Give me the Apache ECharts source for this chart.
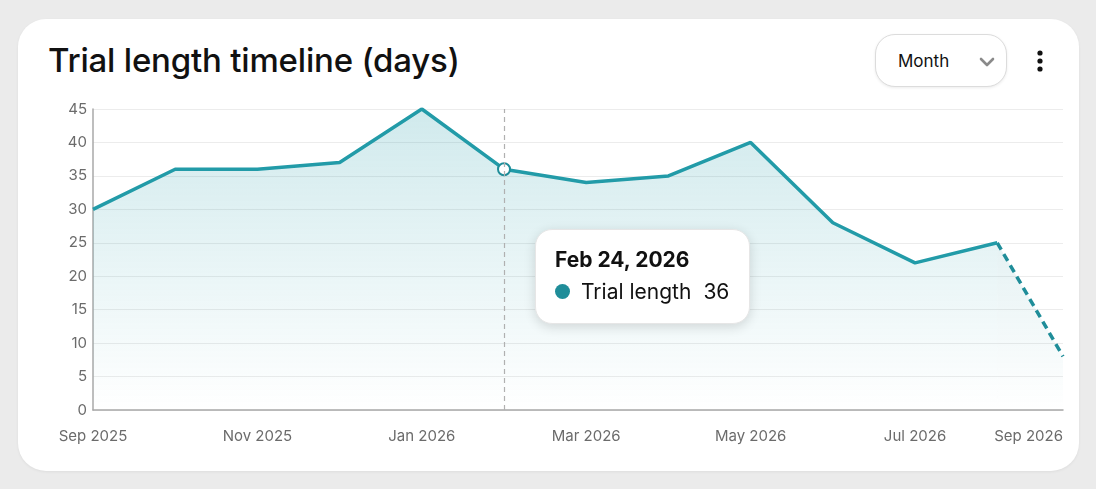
<!DOCTYPE html>
<html>
<head>
<meta charset="utf-8">
<script src="https://cdn.jsdelivr.net/npm/echarts@6/dist/echarts.min.js"></script>
<style>
  html, body { margin: 0; padding: 0; background: #ebebeb; }
  body { width: 1096px; height: 489px; position: relative; overflow: hidden; font-family: Inter, "Noto Sans", sans-serif; }
  .card { position: absolute; left: 18px; top: 19px; width: 1061px; height: 452px; background: #fff; border-radius: 28px; box-shadow: 0 1px 3px rgba(0,0,0,0.06); }
  .title { position: absolute; left: 48px; top: 40px; font-size: 33px; font-weight: 500; color: #111; letter-spacing: -0.2px; }
  .select { position: absolute; left: 875px; top: 34px; width: 130px; height: 51px; border: 1px solid #dcdcdc; border-radius: 20px; box-shadow: 0 1px 3px rgba(0,0,0,0.08); background: #fff; }
  .select span { position: absolute; left: 22px; top: 16px; font-size: 17px; color: #111; }
  .select svg { position: absolute; left: 103px; top: 21px; }
  .kebab { position: absolute; left: 1036px; top: 50px; }
  #chart { position: absolute; left: 0; top: 0; width: 1096px; height: 489px; }
</style>
</head>
<body>
<div class="card"></div>
<div class="title">Trial length timeline (days)</div>
<div class="select"><span>Month</span>
  <svg width="16" height="12" viewBox="0 0 16 12"><polyline points="2,3 8,9 14,3" fill="none" stroke="#8a8a8a" stroke-width="2.6" stroke-linecap="round" stroke-linejoin="round"/></svg>
</div>
<svg class="kebab" width="8" height="24" viewBox="0 0 8 24"><circle cx="4" cy="3" r="2.6" fill="#111"/><circle cx="4" cy="11" r="2.6" fill="#111"/><circle cx="4" cy="19" r="2.6" fill="#111"/></svg>
<div id="chart"></div>
<script>
// month labels on the x axis (one per position)
const months = ['Sep 2025', 'Oct 2025', 'Nov 2025', 'Dec 2025', 'Jan 2026', 'Feb 2026', 'Mar 2026',
                'Apr 2026', 'May 2026', 'Jun 2026', 'Jul 2026', 'Aug 2026', 'Sep 2026'];
// dates shown in the tooltip
const pointDates = ['Sep 24, 2025', 'Oct 24, 2025', 'Nov 24, 2025', 'Dec 24, 2025', 'Jan 24, 2026', 'Feb 24, 2026',
                    'Mar 24, 2026', 'Apr 24, 2026', 'May 24, 2026', 'Jun 24, 2026', 'Jul 24, 2026', 'Aug 24, 2026', 'Sep 18, 2026'];
// position of each point in months from Sep 2025 (last one is a partial month)
const monthPos = [0, 1, 2, 3, 4, 5, 6, 7, 8, 9, 10, 11, 11.8];
const trialLength = [30, 36, 36, 37, 45, 36, 34, 35, 40, 28, 22, 25, 8];
const yTicks = [0, 5, 10, 15, 20, 25, 30, 35, 40, 45];

const teal = '#1f8d99';
const solidPart = monthPos.slice(0, 12).map((x, i) => [x, trialLength[i]]);
const dashedPart = monthPos.slice(11).map((x, i) => [x, trialLength[11 + i]]);

const areaFill = new echarts.graphic.LinearGradient(0, 109, 0, 410, [
  { offset: 0, color: 'rgba(31,141,153,0.3)' },
  { offset: 1, color: 'rgba(31,141,153,0.0)' }
], true);

const chart = echarts.init(document.getElementById('chart'));
chart.setOption({
  animation: false,
  grid: { left: 93, right: 33, top: 109, bottom: 79 },
  xAxis: {
    type: 'value',
    min: 0,
    max: monthPos[monthPos.length - 1],
    interval: 2,
    axisLine: { show: true, lineStyle: { color: '#a8a8a8', width: 1.5 } },
    axisTick: { show: false },
    splitLine: { show: false },
    axisLabel: {
      margin: 19,
      color: '#6b6b6b',
      fontSize: 15,
      fontFamily: 'Inter, "Noto Sans", sans-serif',
      showMinLabel: true,
      showMaxLabel: true,
      alignMaxLabel: 'right',
      formatter: v => months[Math.round(v)]
    }
  },
  yAxis: {
    type: 'value',
    min: yTicks[0],
    max: yTicks[yTicks.length - 1],
    interval: 5,
    axisLine: { show: true, lineStyle: { color: '#a8a8a8', width: 1.5 } },
    axisTick: { show: false },
    splitLine: { lineStyle: { color: '#ececec', width: 1 } },
    axisLabel: { margin: 6, color: '#6b6b6b', fontSize: 15, fontFamily: 'Inter, "Noto Sans", sans-serif' }
  },
  tooltip: {
    trigger: 'axis',
    alwaysShowContent: true,
    position: [535, 229],
    backgroundColor: '#fff',
    borderColor: '#e6e6e6',
    borderWidth: 1,
    padding: [16, 20, 17, 19],
    extraCssText: 'border-radius:17px;box-shadow:0 3px 12px rgba(0,0,0,0.14);',
    axisPointer: {
      type: 'line',
      lineStyle: { color: '#b0b0b0', width: 1.2, type: [5, 4] }
    },
    formatter: params => {
      const p = params.filter(q => q.seriesIndex === 0)[0] || params[0];
      const i = monthPos.indexOf(p.value[0]);
      return '<div style="font-family:Inter,\'Noto Sans\',sans-serif;color:#111;line-height:1.3">' +
        '<div style="font-size:21px;font-weight:700;margin-bottom:5px">' + pointDates[i] + '</div>' +
        '<div style="font-size:21px;display:flex;align-items:center">' +
        '<span style="display:inline-block;width:15px;height:15px;border-radius:50%;background:' + teal + ';margin-right:11px"></span>' +
        '<span>Trial length</span><span style="margin-left:12px">' + p.value[1] + '</span></div></div>';
    }
  },
  series: [
    {
      name: 'Trial length',
      type: 'line',
      data: solidPart,
      showSymbol: false,
      symbol: 'emptyCircle',
      symbolSize: 12,
      lineStyle: { color: teal, width: 3.5 },
      itemStyle: { color: teal, borderWidth: 3, borderColor: teal },
      areaStyle: { color: areaFill },
      emphasis: { scale: false, lineStyle: { width: 3.5 } },
      z: 3
    },
    {
      name: 'Trial length (partial)',
      type: 'line',
      data: dashedPart,
      showSymbol: false,
      lineStyle: { color: teal, width: 3.5, type: [8, 5] },
      itemStyle: { color: teal },
      areaStyle: { color: areaFill },
      emphasis: { scale: false, lineStyle: { width: 3.5 } },
      tooltip: { show: false },
      z: 2
    }
  ]
});

chart.dispatchAction({ type: 'showTip', seriesIndex: 0, dataIndex: 5 });
</script>
</body>
</html>
